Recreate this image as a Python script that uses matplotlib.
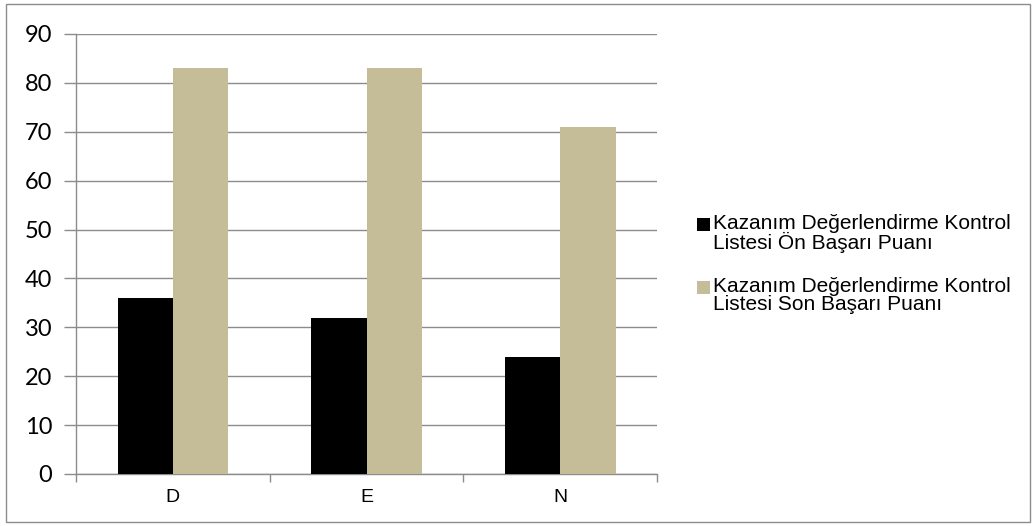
import matplotlib

matplotlib.use("Agg")
import matplotlib.pyplot as plt
import numpy as np
from matplotlib.patches import Rectangle

categories = ["D", "E", "N"]
on_puan = [36, 32, 24]
son_puan = [83, 83, 71]
labels = [
    "Kazanım Değerlendirme Kontrol\nListesi Ön Başarı Puanı",
    "Kazanım Değerlendirme Kontrol\nListesi Son Başarı Puanı",
]
colors = ["#000000", "#c4bd97"]
grid_color = "#8c8c8c"

fig = plt.figure(figsize=(10.33, 5.26), dpi=100)
ax = fig.add_axes([0.0736, 0.0989, 0.5626, 0.8365])

x = np.arange(len(categories))
width = 0.285
ax.bar(x - width / 2, on_puan, width, color=colors[0], zorder=3)
ax.bar(x + width / 2, son_puan, width, color=colors[1], zorder=3)

ax.set_xlim(-0.5, len(categories) - 0.5)
ax.set_ylim(0, 90)
ax.set_yticks(range(0, 91, 10))
ax.yaxis.grid(True, color=grid_color, linewidth=1, zorder=0)
ax.set_axisbelow(True)

# category ticks sit on the group boundaries, labels centred under each group
ax.set_xticks(np.arange(-0.5, len(categories), 1.0))
ax.set_xticklabels([])
ax.set_xticks(x, minor=True)
ax.set_xticklabels(categories, minor=True)
ax.tick_params(axis="x", which="major", length=6, color=grid_color, width=1, direction="out")
ax.tick_params(axis="x", which="minor", length=0, pad=11, labelsize=14)
ax.tick_params(axis="y", length=9, color=grid_color, width=1, labelsize=17, pad=8)
for lbl in ax.get_xticklabels(minor=True):
    lbl.set_fontfamily("Liberation Sans")
for lbl in ax.get_yticklabels():
    lbl.set_fontfamily("Lato")

for side in ["top", "right"]:
    ax.spines[side].set_visible(False)
for side in ["left", "bottom"]:
    ax.spines[side].set_color(grid_color)
    ax.spines[side].set_linewidth(1)

# legend: square swatch level with the first line of each two-line label
W, H = 1033, 526
for i, (label, color) in enumerate(zip(labels, colors)):
    top = 214 + i * 63
    fig.patches.append(Rectangle((697 / W, 1 - (top + 17) / H), 13 / W, 13 / H,
                                 transform=fig.transFigure, facecolor=color,
                                 edgecolor="none"))
    fig.text(713 / W, 1 - top / H, label, ha="left", va="top",
             family="Liberation Sans", fontsize=15, linespacing=0.95)

# thin grey border around the whole chart area
fig.patches.append(Rectangle((0.006, 0.008), 0.991, 0.985, transform=fig.transFigure,
                             fill=False, edgecolor="#8c8c8c", linewidth=1))

fig.savefig("out.png", dpi=100)
